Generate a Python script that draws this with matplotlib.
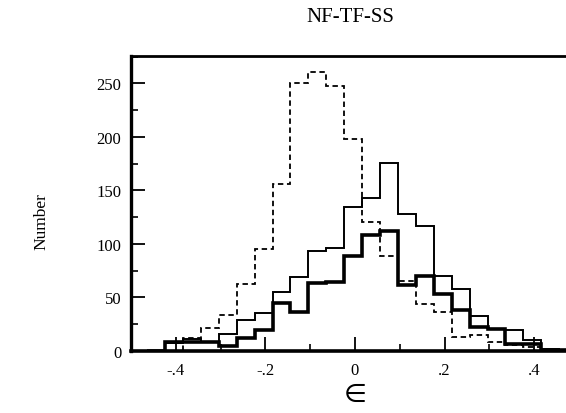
import numpy as np
import matplotlib.pyplot as plt
from matplotlib.ticker import MultipleLocator

plt.rcParams['font.family'] = ['Liberation Serif', 'DejaVu Serif']

# bin edges of the histograms (width .04)
edges = [-0.464, -0.424, -0.384, -0.344, -0.304, -0.264, -0.224, -0.184,
         -0.144, -0.104, -0.064, -0.024, 0.016, 0.056, 0.096, 0.136,
         0.176, 0.216, 0.256, 0.296, 0.336, 0.376, 0.416, 0.456, 0.496]

# counts per bin
dashed = [0, 0, 12, 21, 33, 62, 95, 156, 250, 261, 248, 198,
          120, 89, 65, 44, 36, 13, 15, 8, 5, 3, 1, 0]
thin = [0, 7, 11, 8, 16, 29, 35, 55, 69, 93, 96, 134,
        143, 176, 128, 117, 70, 58, 32, 20, 19, 10, 2, 1]
thick = [0, 8, 8, 8, 4, 12, 19, 45, 36, 63, 64, 89,
         108, 112, 61, 70, 53, 38, 22, 20, 6, 6, 1, 1]

xticks = [-0.4, -0.2, 0, 0.2, 0.4]
xticklabels = ['-.4', '-.2', '0', '.2', '.4']

fig = plt.figure(figsize=(5.66, 4.14), dpi=100)
# axes runs past the right edge of the figure, like the scan
ax = fig.add_axes([0.2314, 0.1505, 0.7915, 0.7126])

ax.stairs(dashed, edges, color='black', lw=1.3, linestyle=(0, (3, 2)))
ax.stairs(thin, edges, color='black', lw=1.4)
ax.stairs(thick, edges, color='black', lw=2.6)

ax.set_xlim(-0.5, 0.5)
ax.set_ylim(0, 276)

ax.set_xticks(xticks)
ax.set_xticklabels(xticklabels)
ax.xaxis.set_minor_locator(MultipleLocator(0.1))
ax.yaxis.set_major_locator(MultipleLocator(50))
ax.yaxis.set_minor_locator(MultipleLocator(25))
ax.tick_params(which='major', direction='in', length=10, width=1.3,
               labelsize=12, top=False, right=False)
ax.tick_params(which='minor', direction='in', length=5, width=1.2,
               top=False, right=False)
ax.tick_params(axis='x', pad=8)
ax.tick_params(axis='y', pad=7)

ax.spines['left'].set_linewidth(2.4)
ax.spines['bottom'].set_linewidth(2.6)
ax.spines['top'].set_linewidth(2.0)

ax.set_xlabel('\u2208', fontsize=19, family=['DejaVu Sans'], labelpad=2)
ax.set_ylabel('Number', fontsize=12.5)
ax.yaxis.set_label_coords(-0.182, 0.44)
ax.set_title('NF-TF-SS', fontsize=15, pad=25, x=0.49)

fig.savefig('out.png', dpi=100)
